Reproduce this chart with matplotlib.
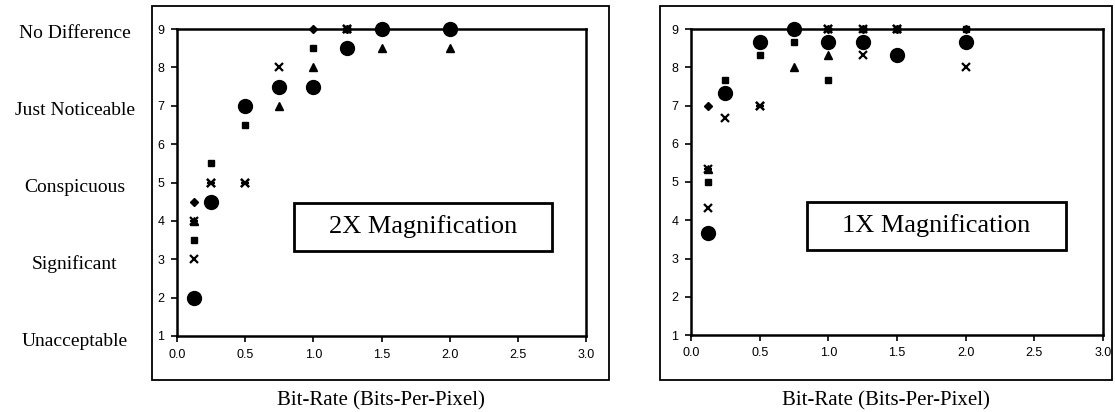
import matplotlib
matplotlib.use("Agg")
import matplotlib.pyplot as plt
from matplotlib.patches import Rectangle

# ---- data ----
bit_rates = [0.125, 0.25, 0.5, 0.75, 1.0, 1.25, 1.5, 2.0]
rating_labels = ["No Difference", "Just Noticeable", "Conspicuous", "Significant", "Unacceptable"]
rating_levels = [9, 7, 5, 3, 1]

# 2X magnification
mag2_diamond  = [4.5, 4.5, 7.0, 7.5, 9.0, 9.0, 9.0, 9.0]
mag2_square   = [3.5, 5.5, 6.5, 7.5, 8.5, 9.0, 9.0, 9.0]
mag2_triangle = [4.0, 4.5, 7.0, 7.0, 8.0, 8.5, 8.5, 8.5]
mag2_cross    = [3.0, 5.0, 5.0, 8.0, 7.5, 9.0, 9.0, 9.0]
mag2_star     = [4.0, 5.0, 5.0, 7.5, 7.5, 9.0, 9.0, 9.0]
mag2_circle   = [2.0, 4.5, 7.0, 7.5, 7.5, 8.5, 9.0, 9.0]

# 1X magnification
mag1_diamond  = [7.0, 7.33, 8.67, 9.0, 9.0, 9.0, 9.0, 9.0]
mag1_square   = [5.0, 7.67, 8.33, 8.67, 7.67, 9.0, 9.0, 9.0]
mag1_triangle = [5.33, 7.33, 8.67, 8.0, 8.33, 8.67, 8.33, 8.67]
mag1_cross    = [4.33, 6.67, 7.0, 9.0, 9.0, 8.33, 9.0, 8.0]
mag1_star     = [5.33, 7.33, 7.0, 9.0, 9.0, 9.0, 9.0, 8.67]
mag1_circle   = [3.67, 7.33, 8.67, 9.0, 8.67, 8.67, 8.33, 8.67]

panel_titles = ["2X Magnification", "1X Magnification"]
x_label = "Bit-Rate (Bits-Per-Pixel)"
x_ticks = [0.0, 0.5, 1.0, 1.5, 2.0, 2.5, 3.0]
y_ticks = [1, 2, 3, 4, 5, 6, 7, 8, 9]

W, H = 1115, 412
fig = plt.figure(figsize=(W / 100, H / 100), dpi=100)
fig.patch.set_facecolor("white")


def fx(px):
    return px / W


def fy(py):
    return 1 - py / H


def frame(x0, y0, x1, y1, lw=1.3):
    fig.add_artist(Rectangle((fx(x0), fy(y1)), fx(x1) - fx(x0), fy(y0) - fy(y1),
                             transform=fig.transFigure, fill=False,
                             edgecolor="black", linewidth=lw))


def panel(ax_px, frame_px, series, title, box_px):
    l, t, r, b = ax_px
    ax = fig.add_axes([fx(l), fy(b), fx(r) - fx(l), fy(t) - fy(b)])
    d, s, tr, cr, st, ci = series
    ax.plot(bit_rates, d, linestyle="none", marker="D", markersize=4.2, color="black")
    ax.plot(bit_rates, s, linestyle="none", marker="s", markersize=4.5, color="black")
    ax.plot(bit_rates, tr, linestyle="none", marker="^", markersize=6, color="black")
    ax.plot(bit_rates, cr, linestyle="none", marker="x", markersize=6, markeredgewidth=1.6, color="black")
    ax.plot(bit_rates, st, linestyle="none", marker="x", markersize=6, markeredgewidth=1.6, color="black")
    ax.plot(bit_rates, st, linestyle="none", marker="_", markersize=6, markeredgewidth=1.6, color="black")
    ax.plot(bit_rates, ci, linestyle="none", marker="o", markersize=10, color="black")
    ax.set_xlim(0, 3.0)
    ax.set_ylim(1, 9)
    ax.set_xticks(x_ticks)
    ax.set_xticklabels([f"{v:.1f}" for v in x_ticks])
    ax.set_yticks(y_ticks)
    ax.tick_params(axis="both", direction="out", length=4, width=1.2,
                   labelsize=9, pad=5, colors="black")
    for tl in ax.get_xticklabels() + ax.get_yticklabels():
        tl.set_fontfamily("Liberation Sans")
    for sp in ax.spines.values():
        sp.set_linewidth(1.8)
        sp.set_color("black")
    for p in ax.collections + ax.lines:
        p.set_clip_on(False)
    # annotation box
    bx0, by0, bx1, by1 = box_px
    fig.add_artist(Rectangle((fx(bx0), fy(by1)), fx(bx1) - fx(bx0), fy(by0) - fy(by1),
                             transform=fig.transFigure, fill=True, facecolor="white",
                             edgecolor="black", linewidth=2.0, zorder=5))
    fig.text(fx((bx0 + bx1) / 2), fy((by0 + by1) / 2), title, ha="center", va="center",
             fontsize=19, family="Liberation Serif", zorder=6)
    # outer frame
    frame(*frame_px)
    # x label
    fig.text(fx((frame_px[0] + frame_px[2]) / 2), fy(401), x_label, ha="center", va="center",
             fontsize=15, family="Liberation Serif")
    return ax


panel((177, 29, 586, 336), (152, 6, 609, 380),
      (mag2_diamond, mag2_square, mag2_triangle, mag2_cross, mag2_star, mag2_circle),
      panel_titles[0], (294, 203, 552, 251))
panel((691, 29, 1103, 335), (660, 6, 1112, 380),
      (mag1_diamond, mag1_square, mag1_triangle, mag1_cross, mag1_star, mag1_circle),
      panel_titles[1], (807, 202, 1066, 250))

# rating labels on the left
for lab, lev in zip(rating_labels, rating_levels):
    ypx = 336 - (lev - 1) * (336 - 29) / 8 + 5
    fig.text(fx(75), fy(ypx), lab, ha="center", va="center",
             fontsize=14, family="Liberation Serif")

fig.savefig("out.png", dpi=100)
